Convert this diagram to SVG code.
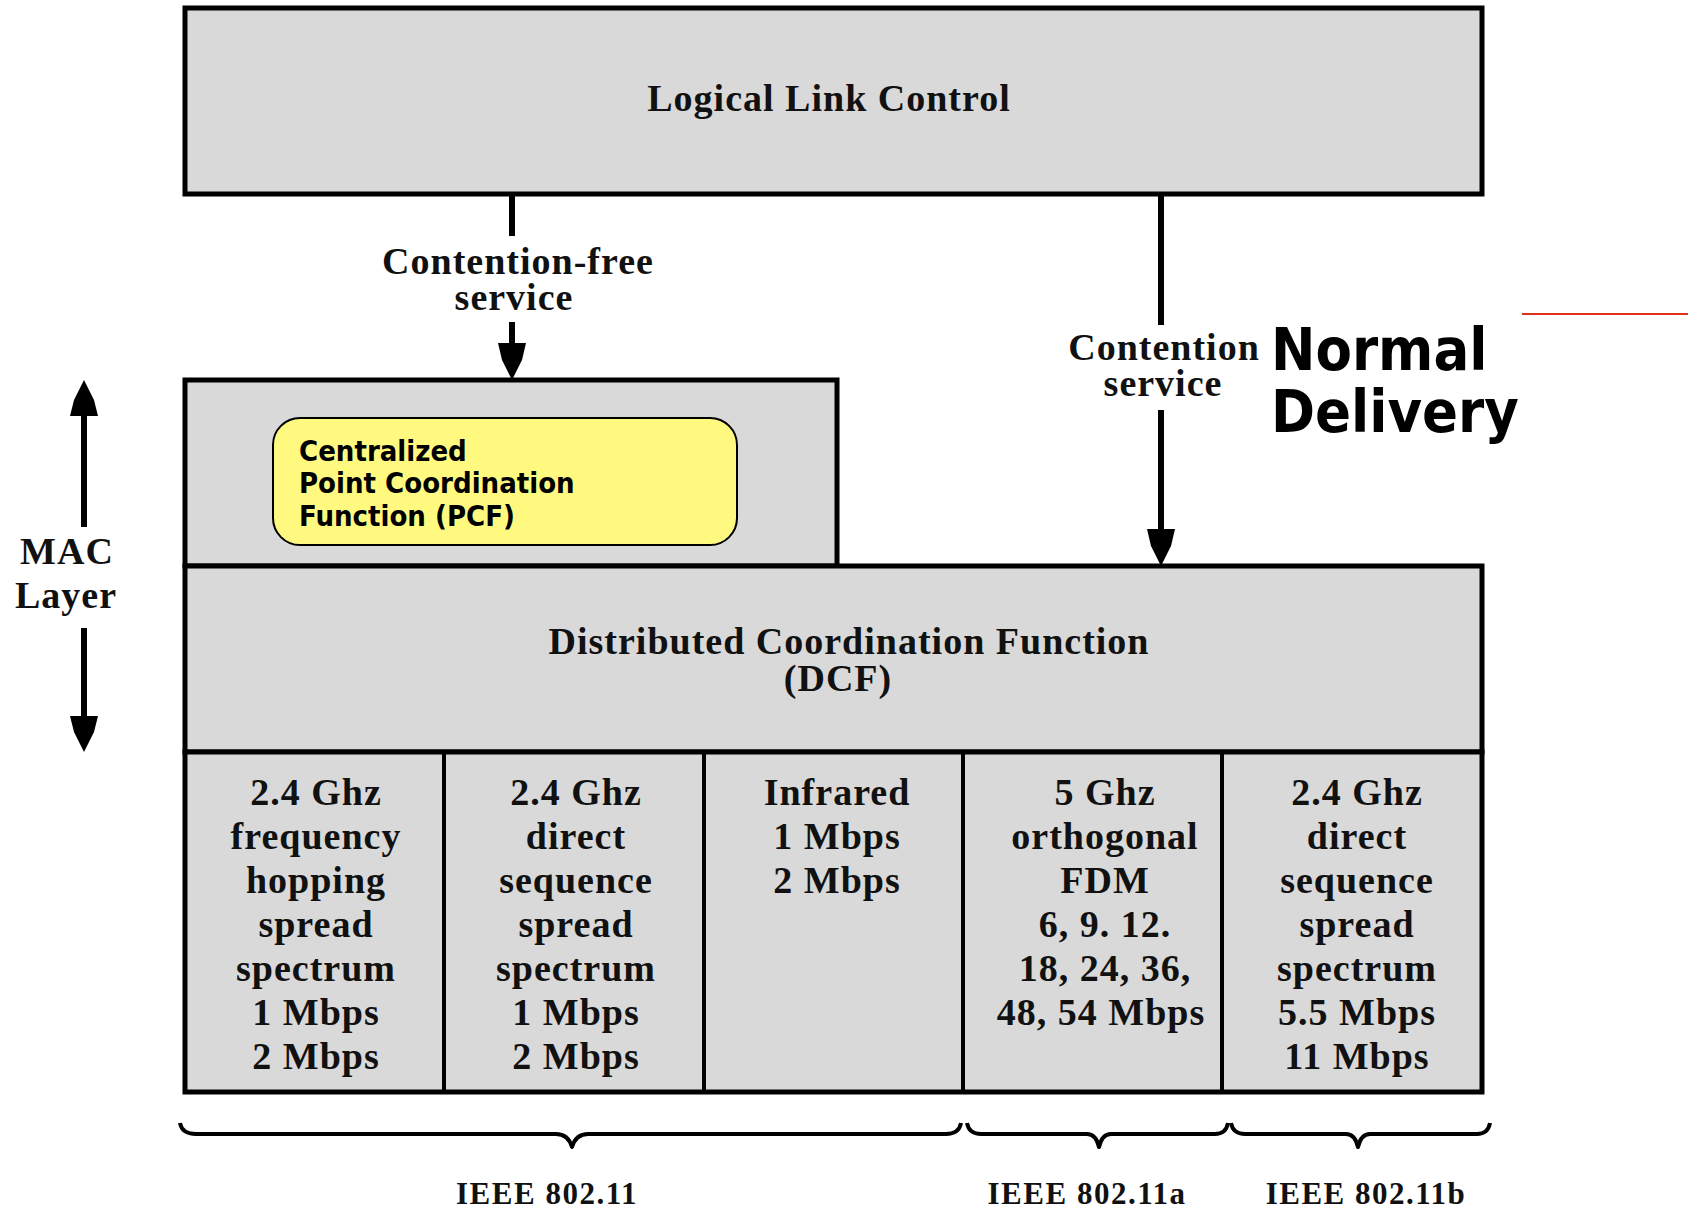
<svg xmlns="http://www.w3.org/2000/svg" width="1693" height="1208" viewBox="0 0 1693 1208">
  <style>
    .box { fill: #d9d9d9; stroke: #000; stroke-width: 5; }
    .div { stroke: #000; stroke-width: 4; }
    .lbl { font-family: "Liberation Serif", "Times New Roman", serif; font-weight: bold; font-size: 38px; letter-spacing: 1px; fill: #111; text-anchor: middle; }
    .small { font-size: 31px; letter-spacing: 1.5px; }
    .sans { font-family: "DejaVu Sans Condensed", "DejaVu Sans", sans-serif; font-stretch: condensed; font-weight: bold; fill: #000; }
    .shaft { stroke: #000; stroke-width: 6; fill: none; }
    .head { fill: #000; }
    .brace { stroke: #000; stroke-width: 4; fill: none; stroke-linejoin: round; }
  </style>
  <rect width="1693" height="1208" fill="#fff"/>

  <!-- Logical Link Control -->
  <g id="llc">
    <rect class="box" x="185" y="8" width="1297" height="186"/>
    <text class="lbl" x="829" y="111">Logical Link Control</text>
  </g>

  <!-- Point coordination layer -->
  <g id="pcf">
    <rect class="box" x="185" y="380" width="652" height="186"/>
    <rect x="273" y="418" width="464" height="127" rx="27" fill="#fff980" stroke="#000" stroke-width="2"/>
    <text class="sans" font-size="29" x="299" y="461">Centralized</text>
    <text class="sans" font-size="29" x="299" y="493">Point Coordination</text>
    <text class="sans" font-size="29" x="299" y="526">Function (PCF)</text>
  </g>

  <!-- Distributed coordination layer -->
  <g id="dcf">
    <rect class="box" x="185" y="566" width="1297" height="186"/>
    <text class="lbl" x="849" y="654">Distributed Coordination Function</text>
    <text class="lbl" x="838" y="691">(DCF)</text>
  </g>

  <!-- Physical layer options -->
  <g id="phy">
    <rect class="box" x="185" y="752" width="1297" height="340"/>
    <line class="div" x1="444" y1="752" x2="444" y2="1092"/>
    <line class="div" x1="704" y1="752" x2="704" y2="1092"/>
    <line class="div" x1="963" y1="752" x2="963" y2="1092"/>
    <line class="div" x1="1222" y1="752" x2="1222" y2="1092"/>
  </g>
  <g id="phy-fhss">
    <text class="lbl" x="316" y="805">2.4 Ghz</text>
    <text class="lbl" x="316" y="849">frequency</text>
    <text class="lbl" x="316" y="893">hopping</text>
    <text class="lbl" x="316" y="937">spread</text>
    <text class="lbl" x="316" y="981">spectrum</text>
    <text class="lbl" x="316" y="1025">1 Mbps</text>
    <text class="lbl" x="316" y="1069">2 Mbps</text>
  </g>
  <g id="phy-dsss">
    <text class="lbl" x="576" y="805">2.4 Ghz</text>
    <text class="lbl" x="576" y="849">direct</text>
    <text class="lbl" x="576" y="893">sequence</text>
    <text class="lbl" x="576" y="937">spread</text>
    <text class="lbl" x="576" y="981">spectrum</text>
    <text class="lbl" x="576" y="1025">1 Mbps</text>
    <text class="lbl" x="576" y="1069">2 Mbps</text>
  </g>
  <g id="phy-ir">
    <text class="lbl" x="837" y="805">Infrared</text>
    <text class="lbl" x="837" y="849">1 Mbps</text>
    <text class="lbl" x="837" y="893">2 Mbps</text>
  </g>
  <g id="phy-ofdm">
    <text class="lbl" x="1105" y="805">5 Ghz</text>
    <text class="lbl" x="1105" y="849">orthogonal</text>
    <text class="lbl" x="1105" y="893">FDM</text>
    <text class="lbl" x="1105" y="937">6, 9. 12.</text>
    <text class="lbl" x="1105" y="981">18, 24, 36,</text>
    <text class="lbl" x="1101" y="1025">48, 54 Mbps</text>
  </g>
  <g id="phy-hrdsss">
    <text class="lbl" x="1357" y="805">2.4 Ghz</text>
    <text class="lbl" x="1357" y="849">direct</text>
    <text class="lbl" x="1357" y="893">sequence</text>
    <text class="lbl" x="1357" y="937">spread</text>
    <text class="lbl" x="1357" y="981">spectrum</text>
    <text class="lbl" x="1357" y="1025">5.5 Mbps</text>
    <text class="lbl" x="1357" y="1069">11 Mbps</text>
  </g>

  <!-- Service connectors -->
  <g id="connectors">
    <line class="shaft" x1="512" y1="194" x2="512" y2="236"/>
    <line class="shaft" x1="512" y1="322" x2="512" y2="346"/>
    <polygon class="head" points="498,343 526,343 522,360 517,370 512,380 507,370 502,360"/>
    <text class="lbl" x="518" y="274">Contention-free</text>
    <text class="lbl" x="514" y="310">service</text>

    <line class="shaft" x1="1161" y1="194" x2="1161" y2="325"/>
    <line class="shaft" x1="1161" y1="410" x2="1161" y2="532"/>
    <polygon class="head" points="1147,529 1175,529 1171,546 1166,556 1161,566 1156,556 1151,546"/>
    <text class="lbl" x="1164" y="360">Contention</text>
    <text class="lbl" x="1163" y="396">service</text>
  </g>

  <!-- MAC layer extent -->
  <g id="mac-layer">
    <line class="shaft" x1="84" y1="414" x2="84" y2="527"/>
    <polygon class="head" points="84,380 89,390 94,400 98,416 70,416 74,400 79,390"/>
    <line class="shaft" x1="84" y1="628" x2="84" y2="718"/>
    <polygon class="head" points="70,716 98,716 94,732 89,742 84,752 79,742 74,732"/>
    <text class="lbl" x="67" y="564">MAC</text>
    <text class="lbl" x="66" y="608">Layer</text>
  </g>

  <!-- Standard groupings -->
  <g id="standards">
    <path class="brace" d="M180,1123 Q182,1134 196,1134 L556,1134 Q568,1134 572,1147 Q576,1134 588,1134 L946,1134 Q959,1134 961,1123"/>
    <path class="brace" d="M967,1123 Q969,1134 981,1134 L1087,1134 Q1096,1134 1099,1147 Q1102,1134 1111,1134 L1215,1134 Q1226,1134 1228,1123"/>
    <path class="brace" d="M1231,1123 Q1233,1134 1245,1134 L1346,1134 Q1355,1134 1358,1147 Q1361,1134 1370,1134 L1477,1134 Q1488,1134 1490,1123"/>
    <text class="lbl small" x="547" y="1204">IEEE 802.11</text>
    <text class="lbl small" x="1087" y="1204">IEEE 802.11a</text>
    <text class="lbl small" x="1366" y="1204">IEEE 802.11b</text>
  </g>

  <!-- Annotation -->
  <g id="note">
    <text class="sans" font-size="59" x="1271" y="370">Normal</text>
    <text class="sans" font-size="59" x="1271" y="432">Delivery</text>
    <line x1="1522" y1="314" x2="1688" y2="314" stroke="#e0301c" stroke-width="2"/>
  </g>
</svg>
